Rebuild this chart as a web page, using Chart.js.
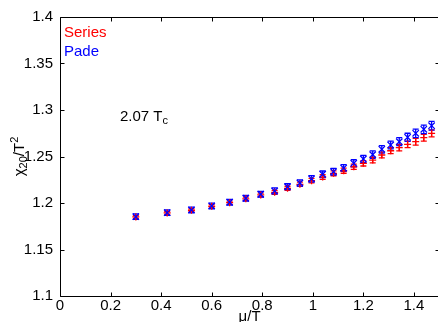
<!DOCTYPE html>
<html>
<head>
<meta charset="utf-8">
<script src="https://cdn.jsdelivr.net/npm/chart.js@4/dist/chart.umd.min.js"></script>
<style>
  html, body { margin: 0; padding: 0; background: #fff; overflow: hidden; }
  #chi { display: block; }
</style>
</head>
<body>
<canvas id="chi" width="445" height="322"></canvas>
<script>
// mu/T values of the points
const muT = [0.30, 0.424, 0.52, 0.60, 0.671, 0.735, 0.794, 0.849, 0.90, 0.949, 0.995, 1.039,
             1.082, 1.122, 1.162, 1.20, 1.237, 1.273, 1.308, 1.342, 1.375, 1.407, 1.439, 1.47];

// chi20/T^2, series expansion (red)
const seriesVals = [1.1850, 1.1893, 1.1922, 1.1964, 1.2003, 1.2045, 1.2087, 1.2115, 1.2158, 1.2201, 1.2240, 1.2279,
                    1.2319, 1.2347, 1.2390, 1.2427, 1.2462, 1.2516, 1.2562, 1.2595, 1.2631, 1.2659, 1.2702, 1.2749];
const seriesErr = [0.0015, 0.0015, 0.0016, 0.0017, 0.0018, 0.0019, 0.0020, 0.0021, 0.0022, 0.0023, 0.0024, 0.0025,
                   0.0026, 0.0027, 0.0028, 0.0029, 0.0030, 0.0031, 0.0032, 0.0034, 0.0035, 0.0036, 0.0037, 0.0038];

// chi20/T^2, Pade (blue)
const padeVals = [1.1853, 1.1896, 1.1925, 1.1968, 1.2008, 1.2051, 1.2094, 1.2130, 1.2175, 1.2215, 1.2260, 1.2309,
                  1.2337, 1.2376, 1.2427, 1.2473, 1.2520, 1.2577, 1.2624, 1.2659, 1.2706, 1.2749, 1.2792, 1.2831];
const padeErr = [0.0030, 0.0030, 0.0030, 0.0030, 0.0030, 0.0030, 0.0031, 0.0032, 0.0032, 0.0033, 0.0034, 0.0035,
                 0.0036, 0.0037, 0.0038, 0.0039, 0.0040, 0.0041, 0.0042, 0.0043, 0.0044, 0.0045, 0.0046, 0.0047];

const xTicks = [0, 0.2, 0.4, 0.6, 0.8, 1.0, 1.2, 1.4];
const yTicks = [1.1, 1.15, 1.2, 1.25, 1.3, 1.35, 1.4];
const xLabels = ["0", "0.2", "0.4", "0.6", "0.8", "1", "1.2", "1.4"];
const yLabels = ["1.1", "1.15", "1.2", "1.25", "1.3", "1.35", "1.4"];

const FONT = "Liberation Sans, Arial, sans-serif";
const RED = "rgb(255,0,0)";
const BLUE = "rgb(0,0,255)";

function toPoints(xs, ys) {
    return xs.map((x, i) => ({ x: x, y: ys[i] }));
}

// error bars, drawn from the scales
const errorBars = {
    id: "errorBars",
    beforeDatasetsDraw(chart) {
        const ctx = chart.ctx;
        const xs = chart.scales.x, ys = chart.scales.y;
        const sets = [[seriesVals, seriesErr, RED], [padeVals, padeErr, BLUE]];
        ctx.save();
        ctx.lineWidth = 1.3;
        sets.forEach(([vals, errs, col]) => {
            ctx.strokeStyle = col;
            vals.forEach((v, i) => {
                const px = xs.getPixelForValue(muT[i]);
                const top = ys.getPixelForValue(v + errs[i]);
                const bot = ys.getPixelForValue(v - errs[i]);
                ctx.beginPath();
                ctx.moveTo(px, top); ctx.lineTo(px, bot);
                ctx.moveTo(px - 3, top); ctx.lineTo(px + 3, top);
                ctx.moveTo(px - 3, bot); ctx.lineTo(px + 3, bot);
                ctx.stroke();
            });
        });
        ctx.restore();
    }
};

// matlab style box, inward ticks and the texts
const frameAndText = {
    id: "frameAndText",
    afterDraw(chart) {
        const ctx = chart.ctx;
        const a = chart.chartArea;
        const xs = chart.scales.x, ys = chart.scales.y;
        const L = Math.round(a.left) + 0.5, R = Math.round(a.right) + 0.5;
        const T = Math.round(a.top) + 0.5, B = Math.round(a.bottom) + 0.5;
        ctx.save();
        ctx.strokeStyle = "#000";
        ctx.lineWidth = 1;
        ctx.beginPath();
        ctx.rect(L, T, R - L, B - T);
        xTicks.forEach(v => {
            const p = Math.round(xs.getPixelForValue(v)) + 0.5;
            ctx.moveTo(p, B); ctx.lineTo(p, B - 4);
            ctx.moveTo(p, T); ctx.lineTo(p, T + 4);
        });
        yTicks.forEach(v => {
            const p = Math.round(ys.getPixelForValue(v)) + 0.5;
            ctx.moveTo(L, p); ctx.lineTo(L + 4, p);
            ctx.moveTo(R, p); ctx.lineTo(R - 4, p);
        });
        ctx.stroke();

        ctx.textBaseline = "alphabetic";
        ctx.textAlign = "left";
        // legend texts
        ctx.font = "15px " + FONT;
        ctx.fillStyle = RED;
        ctx.fillText("Series", 64, 37);
        ctx.fillStyle = BLUE;
        ctx.fillText("Pade", 64, 56);

        // temperature annotation
        ctx.fillStyle = "#000";
        ctx.fillText("2.07 T", 120, 121);
        const w = ctx.measureText("2.07 T").width;
        ctx.font = "11px " + FONT;
        ctx.fillText("c", 120 + w, 124);

        // x axis title
        ctx.font = "15px " + FONT;
        ctx.textAlign = "center";
        ctx.fillText("\u03bc/T", (a.left + a.right) / 2, 321);

        // y axis title, rotated
        ctx.translate(24, (a.top + a.bottom) / 2);
        ctx.rotate(-Math.PI / 2);
        const parts = [["\u03c7", 15, 0], ["20", 11, 3], ["/T", 15, 0], ["2", 11, -6]];
        let total = 0;
        parts.forEach(([s, f]) => { ctx.font = f + "px " + FONT; total += ctx.measureText(s).width; });
        let x0 = -total / 2;
        ctx.textAlign = "left";
        parts.forEach(([s, f, dy]) => {
            ctx.font = f + "px " + FONT;
            ctx.fillText(s, x0, dy);
            x0 += ctx.measureText(s).width;
        });
        ctx.restore();
    }
};

document.addEventListener("DOMContentLoaded", function () {
    const ctx = document.getElementById("chi").getContext("2d");
    new Chart(ctx, {
        type: "scatter",
        data: {
            datasets: [
                {
                    label: "Pade",
                    data: toPoints(muT, padeVals),
                    pointStyle: "crossRot",
                    pointRadius: 4.5,
                    borderColor: BLUE,
                    backgroundColor: BLUE,
                    pointBorderWidth: 1.3,
                    showLine: false,
                    order: 0,
                },
                {
                    label: "Series",
                    data: toPoints(muT, seriesVals),
                    pointStyle: "cross",
                    pointRadius: 3.5,
                    borderColor: RED,
                    backgroundColor: RED,
                    pointBorderWidth: 1.3,
                    showLine: false,
                    order: 1,
                },
            ],
        },
        options: {
            responsive: false,
            animation: false,
            events: [],
            layout: { padding: { top: 17, right: 2, left: 0, bottom: 0 } },
            plugins: {
                legend: { display: false },
                tooltip: { enabled: false },
            },
            scales: {
                x: {
                    type: "linear",
                    min: 0,
                    max: 1.5,
                    grid: { display: false, drawTicks: false },
                    border: { display: false },
                    afterBuildTicks: (s) => { s.ticks = xTicks.map(v => ({ value: v })); },
                    afterFit: (s) => { s.height = 26; },
                    ticks: {
                        padding: 1,
                        color: "#000",
                        maxRotation: 0,
                        autoSkip: false,
                        font: { family: FONT, size: 15 },
                        callback: (v, i) => xLabels[i],
                    },
                },
                y: {
                    type: "linear",
                    min: 1.1,
                    max: 1.4,
                    grid: { display: false, drawTicks: false },
                    border: { display: false },
                    afterBuildTicks: (s) => { s.ticks = yTicks.map(v => ({ value: v })); },
                    afterFit: (s) => { s.width = 60; },
                    ticks: {
                        padding: 7,
                        color: "#000",
                        autoSkip: false,
                        font: { family: FONT, size: 15 },
                        callback: (v, i) => yLabels[i],
                    },
                },
            },
        },
        plugins: [errorBars, frameAndText],
    });
});
</script>
</body>
</html>
